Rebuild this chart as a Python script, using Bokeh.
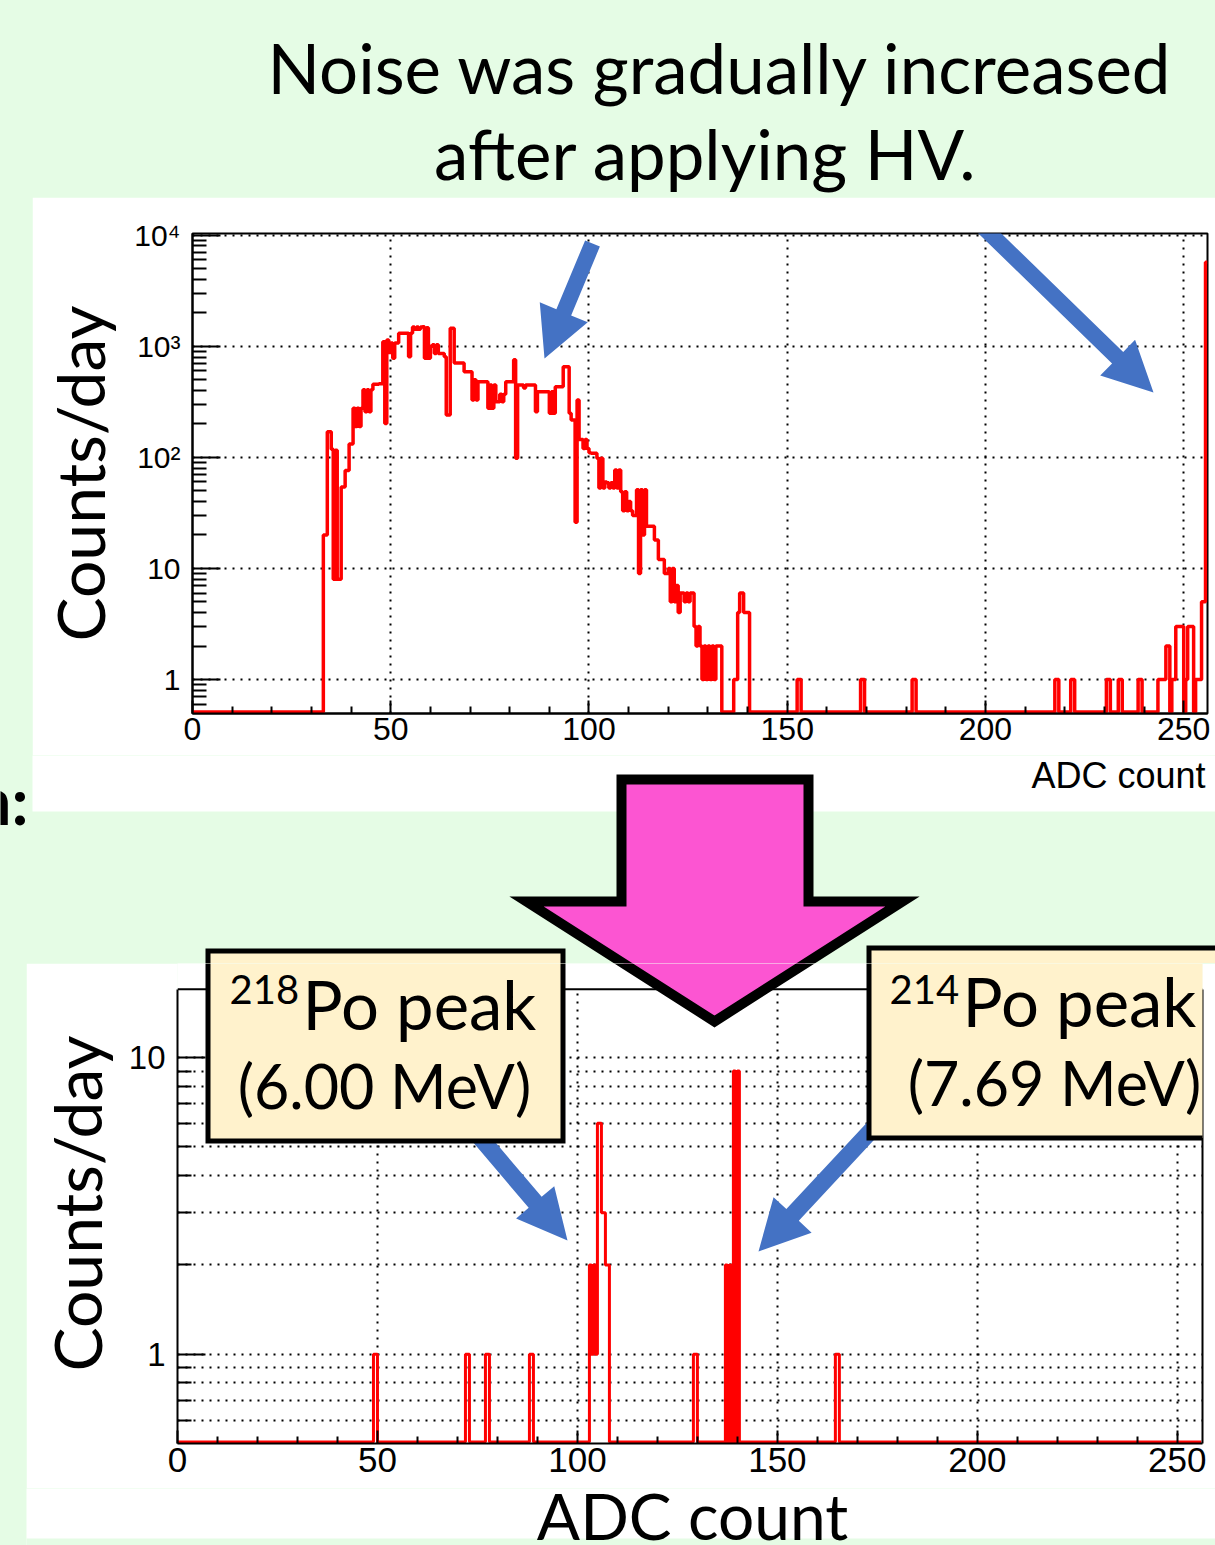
import numpy as np
from bokeh.plotting import figure
from bokeh.models import Label, PolyAnnotation, BoxAnnotation, Range1d, FixedTicker, LogAxis, Span
from bokeh.layouts import column
from bokeh.embed import file_html
from bokeh.resources import INLINE

# ---------------- data ----------------
bin_width = 0.5            # ADC counts per histogram bin
x_max = 256

# upper spectrum (noise increasing after HV): dense part, bins starting at 33.0
top_dense_start = 33.0
top_dense_counts = [
    20, 20, 170, 170, 118, 8, 116, 8, 8, 54,
    54, 76, 76, 132, 132, 277, 189, 277, 189, 277,
    405, 257, 405, 257, 405, 455, 455, 455, 460, 460,
    1100, 202, 1140, 880, 1070, 780, 1070, 1070, 1310, 1310,
    1310, 1310, 1310, 805, 1310, 1490, 1420, 1490, 1420, 1490,
    1500, 780, 1470, 780, 1000, 1030, 860, 1030, 860, 860,
    860, 805, 240, 240, 1450, 1450, 705, 705, 705, 705,
    705, 590, 590, 590, 590, 328, 500, 328, 480, 480,
    480, 480, 480, 276, 447, 276, 447, 317, 317, 370,
    317, 370, 480, 480, 480, 480, 755, 98, 447, 447,
    447, 420, 447, 447, 447, 447, 447, 257, 390, 390,
    390, 390, 390, 390, 249, 390, 249, 432, 432, 432,
    432, 655, 655, 655, 249, 217, 217, 26, 328, 145,
    145, 120, 145, 120, 110, 109, 109, 109, 98, 53,
    98, 53, 60, 59, 53, 59, 53, 77, 53, 77,
    49, 33, 49, 33, 40, 33, 30, 30, 51, 9,
    51, 20, 51, 24, 24, 24, 24, 18, 18, 12,
    12, 12, 9, 9, 10, 5, 10, 5, 7, 4,
    6, 6, 5, 6, 5, 6, 6, 3, 2, 3,
    2, 1, 2, 1, 2, 1, 2, 1, 2, 2,
    2, 0, 0, 0, 0, 0, 0, 1, 1, 4,
    6, 6, 4, 4, 4,
]
# upper spectrum: sparse high-ADC part (bin left edges, counts)
top_tail_bins = [152.5, 153.0, 168.5, 169.0, 181.5, 182.0, 217.5, 218.0, 221.5, 222.0,
                 230.5, 231.0, 233.5, 234.0, 238.5, 239.0, 243.5, 244.0, 244.5, 245.0,
                 245.5, 246.0, 247.0, 247.5, 248.0, 248.5, 249.0, 249.5, 250.5, 251.0,
                 251.5, 252.0, 253.0, 253.5, 254.0, 254.5, 255.0, 255.5]
top_tail_counts = [1, 1, 1, 1, 1, 1, 1, 1, 1, 1,
                   1, 1, 1, 1, 1, 1, 1, 1, 1, 1,
                   2, 2, 1, 1, 3, 3, 3, 3, 1, 3,
                   3, 3, 1, 1, 1, 5, 5, 5700]

# lower spectrum (after fix): Po peaks
bottom_bins = [49.0, 49.5, 72.0, 72.5, 77.0, 77.5, 88.0, 88.5,
               103.0, 103.5, 104.0, 104.5, 105.0, 105.5, 106.0, 106.5, 107.0, 107.5,
               129.0, 129.5, 137.0, 138.0, 139.0, 140.0, 164.5, 165.0]
bottom_counts = [1, 1, 1, 1, 1, 1, 1, 1,
                 2, 1, 2, 1, 6, 6, 3, 3, 2, 2,
                 1, 1, 2, 2, 9, 9, 1, 1]

x_ticks = [0, 50, 100, 150, 200, 250]
x_minor = [m for m in range(0, 257, 10) if m % 50]
top_y_ticks = [1, 10, 100, 1000, 10000]
top_y_labels = ["1", "10", "10²", "10³", "10⁴"]
bottom_y_ticks = [1, 10]
bottom_y_labels = ["1", "10"]

title_lines = ["Noise was gradually increased", "after applying HV."]
x_title = "ADC count"
y_title = "Counts/day"
peak218 = ("218", "Po peak", "(6.00 MeV)")
peak214 = ("214", "Po peak", "(7.69 MeV)")

# ---------------- style ----------------
GREEN = "#E5FCE5"
RED = "#FF0000"
BLUE = "#4472C4"
PINK = "#FC55D2"
CREAM = "#FFF2CC"
CAL = "Lato"
HEL = "Liberation Sans"
BASELINE_FIX = 0.4   # label anchor correction (fraction of font size)


def hist_arrays(bins, counts, floor):
    n = int(round(x_max / bin_width))
    full = np.zeros(n)
    for b, c in zip(bins, counts):
        full[int(round(b / bin_width))] = c
    edges = np.arange(n + 1) * bin_width
    y = np.where(full > 0, full, floor)
    return edges, np.append(y, y[-1])


def blank(width, height, bg, margin=None):
    f = figure(width=width, height=height, x_range=Range1d(0, 1), y_range=Range1d(0, 1),
               x_axis_location=None, y_axis_location=None, min_border=0, frame_align=False,
               output_backend="svg", toolbar_location=None)
    f.grid.visible = False
    f.outline_line_color = None
    f.background_fill_color = bg
    f.border_fill_color = bg
    if margin:
        f.margin = margin
    return f


def text(fig, off, x, y, s, size, font=CAL, align="left", style="normal"):
    fig.add_layout(Label(x=x - off[0], y=y - off[1] - BASELINE_FIX * size,
                         x_units="canvas", y_units="canvas", text=s,
                         text_font=font, text_font_size=f"{size}px", text_align=align,
                         text_baseline="alphabetic", text_color="black", text_font_style=style))


def poly(fig, off, pts, fill, line=None, lw=0):
    fig.add_layout(PolyAnnotation(xs=[p[0] - off[0] for p in pts], ys=[p[1] - off[1] for p in pts],
                                  xs_units="canvas", ys_units="canvas",
                                  fill_color=fill, fill_alpha=1,
                                  line_color=line if line else fill, line_alpha=1 if line else 0,
                                  line_width=lw, line_join="miter"))


def arrow_poly(tail, tip, shaft_half, head_half, head_len):
    (x0, y0), (x1, y1) = tail, tip
    dx, dy = x1 - x0, y1 - y0
    L = (dx * dx + dy * dy) ** 0.5
    ux, uy = dx / L, dy / L
    nx, ny = -uy, ux
    bx, by = x1 - ux * head_len, y1 - uy * head_len
    return [(x0 + nx * shaft_half, y0 + ny * shaft_half),
            (bx + nx * shaft_half, by + ny * shaft_half),
            (bx + nx * head_half, by + ny * head_half),
            (x1, y1),
            (bx - nx * head_half, by - ny * head_half),
            (bx - nx * shaft_half, by - ny * shaft_half),
            (x0 - nx * shaft_half, y0 - ny * shaft_half)]


def rect(l, t, r, b):
    return [(l, t), (r, t), (r, b), (l, b)]


def style_axes(f, xsize, ysize, y_ticks, y_labels, y_minor, y_bounds, minor_grid, label_standoff):
    xt = FixedTicker(ticks=x_ticks, minor_ticks=x_minor)
    yt = FixedTicker(ticks=y_ticks, minor_ticks=y_minor)
    xa, ya = f.xaxis[0], f.yaxis[0]
    xa.ticker = xt
    ya.ticker = yt
    f.xgrid[0].ticker = xt
    f.ygrid[0].ticker = yt
    ya.major_label_overrides = dict(zip(y_ticks, y_labels))
    if y_bounds:
        ya.bounds = y_bounds
    for a in (xa, ya):
        a.axis_line_color = "black"
        a.axis_line_width = 2
        a.major_tick_line_color = "black"
        a.minor_tick_line_color = "black"
        a.major_tick_line_width = 2
        a.minor_tick_line_width = 2
        a.major_tick_out = 0
        a.minor_tick_out = 0
        a.major_label_text_font = HEL
        a.major_label_text_color = "black"
    xa.major_tick_in = 13
    xa.minor_tick_in = 7
    ya.major_tick_in = 28
    ya.minor_tick_in = 14
    xa.major_label_text_font_size = f"{xsize}px"
    ya.major_label_text_font_size = f"{ysize}px"
    xa.major_label_standoff = 4
    ya.major_label_standoff = 12
    ya.axis_label = y_title
    ya.axis_label_text_font = CAL
    ya.axis_label_text_font_size = "66px"
    ya.axis_label_text_font_style = "normal"
    ya.axis_label_text_color = "black"
    ya.axis_label_standoff = label_standoff
    for g in (f.xgrid[0], f.ygrid[0]):
        g.grid_line_color = "black"
        g.grid_line_width = 2
        g.grid_line_dash = "2 6"
        g.grid_line_alpha = 1
    if minor_grid:
        f.ygrid[0].minor_grid_line_color = "black"
        f.ygrid[0].minor_grid_line_width = 2
        f.ygrid[0].minor_grid_line_dash = "2 6"


# ---------------- title strip ----------------
OFF_T = (0, 0)
title_fig = blank(1215, 197, GREEN)
text(title_fig, OFF_T, 720, 95, title_lines[0], 69, align="center")
text(title_fig, OFF_T, 705, 181, title_lines[1], 69, align="center")

# ---------------- upper histogram ----------------
OFF_U = (32, 197)
top = figure(width=1183, height=558, x_range=Range1d(0, x_max), y_range=Range1d(0.494, 10350),
             y_axis_type="log", min_border_left=160, min_border_right=8, min_border_top=36,
             min_border_bottom=42, frame_align=False, output_backend="svg", toolbar_location=None)
top.margin = (0, 0, 0, 32)
top.background_fill_color = "white"
top.border_fill_color = "white"
top.outline_line_color = "black"
top.outline_line_width = 2
top_minor = [k * 10.0 ** d for d in range(-1, 4) for k in range(2, 10) if 0.55 < k * 10.0 ** d < 10000]
style_axes(top, 32, 30, top_y_ticks, top_y_labels, top_minor, None, False, 12)
top_bins = [top_dense_start + i * bin_width for i in range(len(top_dense_counts))] + top_tail_bins
top_counts = top_dense_counts + top_tail_counts
e, y = hist_arrays(top_bins, top_counts, 0.51)
top.step(x=e, y=y, mode="after", line_color=RED, line_width=3.5)
poly(top, OFF_U, arrow_poly((592, 243), (544, 358), 8, 26, 50), BLUE)
poly(top, OFF_U, arrow_poly((976, 220), (1153, 392), 8, 25, 50), BLUE)

# ---------------- middle strip ----------------
OFF_M = (0, 755)
PINK_ARROW = [(621, 779), (808, 779), (808, 901), (902, 901), (714, 1021), (526, 901), (621, 901)]
BOX218 = rect(207.5, 950.5, 562.5, 1140.5)
BOX214 = rect(868.5, 947.5, 1235, 1137.5)
mid = blank(1215, 208, GREEN)
poly(mid, OFF_M, rect(32, 740, 1230, 811), "white")
text(mid, OFF_M, 1205, 789, x_title, 36, font=HEL, align="right")
text(mid, OFF_M, 28, 825, "n:", 66, style="bold", align="right")
poly(mid, OFF_M, PINK_ARROW, PINK, "black", 10)
poly(mid, OFF_M, BOX218, CREAM, "black", 5)
poly(mid, OFF_M, BOX214, CREAM, "black", 5)

# ---------------- lower histogram ----------------
OFF_B = (26, 963)
bot_frame_top = 17
bot = figure(width=1189, height=525, x_range=Range1d(0, 256.3), y_range=Range1d(0.5, 20.75),
             y_axis_type="log", min_border_left=151, min_border_right=13, min_border_top=0,
             min_border_bottom=45, frame_align=False, output_backend="svg", toolbar_location=None)
bot.margin = (0, 0, 0, 26)
bot.background_fill_color = "white"
bot.border_fill_color = "white"
bot.outline_line_color = None
bot_minor = [0.6, 0.7, 0.8, 0.9] + list(range(2, 10))
style_axes(bot, 35, 33, bottom_y_ticks, bottom_y_labels, bot_minor, (0.5, bot_frame_top), True, 10)
ra = LogAxis(bounds=(0.5, bot_frame_top), ticker=FixedTicker(ticks=[]), major_label_text_font_size="0px",
             major_tick_out=0, minor_tick_out=0, major_tick_in=0, minor_tick_in=0,
             major_label_standoff=0, axis_line_color="black", axis_line_width=2)
bot.add_layout(ra, "right")
e, y = hist_arrays(bottom_bins, bottom_counts, 0.506)
bot.step(x=e, y=y, mode="after", line_color=RED, line_width=3)
bot.add_layout(BoxAnnotation(bottom=bot_frame_top, fill_color="white", fill_alpha=1, line_alpha=0))
bot.add_layout(Span(location=bot_frame_top, dimension="width", line_color="black", line_width=2))
poly(bot, OFF_B, PINK_ARROW, PINK, "black", 10)
poly(bot, OFF_B, arrow_poly((478, 1135), (567, 1240), 8.5, 25, 50), BLUE)
poly(bot, OFF_B, arrow_poly((880, 1120), (758, 1251), 8.5, 26, 50), BLUE)
poly(bot, OFF_B, BOX218, CREAM, "black", 5)
poly(bot, OFF_B, BOX214, CREAM, "black", 5)
text(bot, OFF_B, 229, 1005, peak218[0], 40)
text(bot, OFF_B, 302, 1030, peak218[1], 67)
text(bot, OFF_B, 384, 1109, peak218[2], 61, align="center")
text(bot, OFF_B, 889, 1005, peak214[0], 40)
text(bot, OFF_B, 962, 1027, peak214[1], 67)
text(bot, OFF_B, 1054, 1106, peak214[2], 61, align="center")

# ---------------- foot strip ----------------
OFF_F = (26, 1488)
foot = blank(1189, 57, "white", margin=(0, 0, 0, 26))
poly(foot, OFF_F, rect(0, 1538, 1230, 1560), GREEN)
text(foot, OFF_F, 692, 1541, x_title, 64, align="center")

page = column(title_fig, top, mid, bot, foot, spacing=0, styles={"background-color": GREEN})
open("out.html", "w").write(file_html(page, INLINE))
